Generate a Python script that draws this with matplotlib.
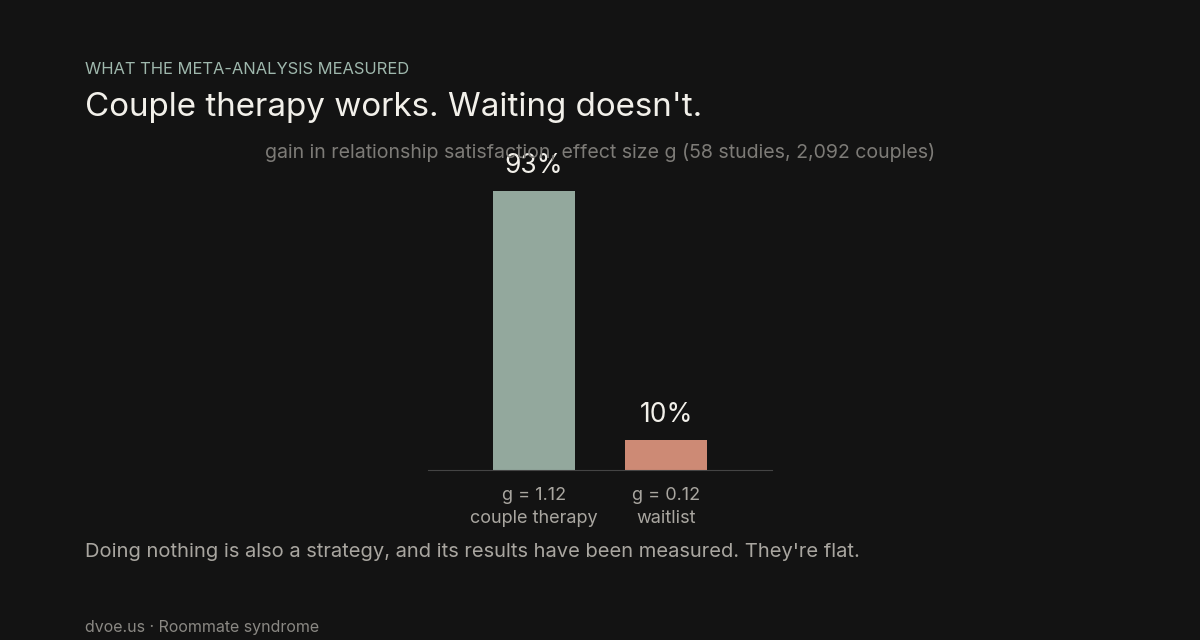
import matplotlib
matplotlib.use('Agg')
import matplotlib.pyplot as plt

plt.rcParams['font.family'] = ['Inter', 'DejaVu Sans']

groups = ['couple therapy', 'waitlist']
effect_g = ['1.12', '0.12']
gain_pct = [93, 10]
bar_colors = ['#93a89d', '#cd8a75']

bg = '#131313'

fig = plt.figure(figsize=(12, 6.4), dpi=100, facecolor=bg)
ax = fig.add_axes([0.3567, 0.2656, 0.2867, 0.469])
ax.set_facecolor(bg)

x = range(len(groups))
bars = ax.bar(x, gain_pct, width=0.62, color=bar_colors)
for b, v in zip(bars, gain_pct):
    ax.text(b.get_x() + b.get_width() / 2, v + 4, f'{v}%', ha='center', va='bottom',
            color='#f2f0ea', fontsize=19)

ax.set_xlim(-0.803, 1.803)
ax.set_ylim(0, 100)
ax.set_xticks(list(x))
ax.set_xticklabels([f'g = {g}\n{n}' for g, n in zip(effect_g, groups)],
                   color='#a9a6a0', fontsize=13, linespacing=1.45)
ax.tick_params(axis='x', length=0, pad=12)
ax.set_yticks([])
for s in ['top', 'right', 'left']:
    ax.spines[s].set_visible(False)
ax.spines['bottom'].set_color('#444444')

fig.text(0.5, 0.762, 'gain in relationship satisfaction, effect size g (58 studies, 2,092 couples)',
         ha='center', va='center', color='#7d7b77', fontsize=14.05)

fig.text(0.0708, 0.892, 'WHAT THE META-ANALYSIS MEASURED', color='#9fb8ad', fontsize=11.9, va='center')
fig.text(0.0708, 0.832, "Couple therapy works. Waiting doesn't.", color='#f2f0ea', fontsize=23.9, va='center')
fig.text(0.0708, 0.137, "Doing nothing is also a strategy, and its results have been measured. They're flat.",
         color='#a9a6a0', fontsize=14.5, va='center')
fig.text(0.0708, 0.02, 'dvoe.us · Roommate syndrome', color='#8a8883', fontsize=11.5, va='center')

fig.savefig('out.png', dpi=100, facecolor=bg)
